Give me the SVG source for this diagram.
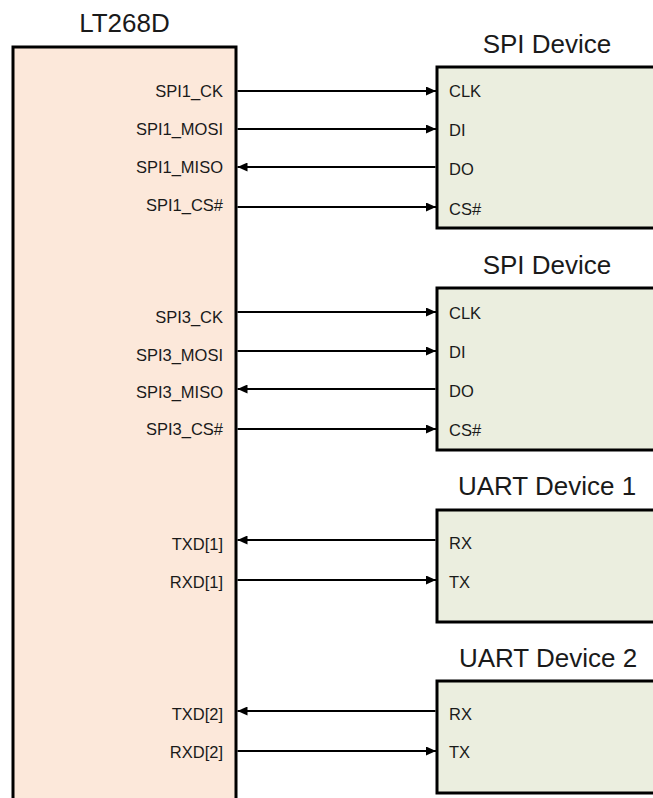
<svg xmlns="http://www.w3.org/2000/svg" width="653" height="798" viewBox="0 0 653 798">
<style>
.title{font-family:"Liberation Sans",Arial,sans-serif;font-size:26px;fill:#1a1a1a;text-anchor:middle}
.sig{font-family:"Liberation Sans",Arial,sans-serif;font-size:16.5px;fill:#1a1a1a;text-anchor:end}
.pin{font-family:"Liberation Sans",Arial,sans-serif;font-size:16.5px;fill:#1a1a1a;text-anchor:start}
.main{fill:#fce8da;stroke:#000;stroke-width:3}
.dev{fill:#ebeedf;stroke:#000;stroke-width:3}
.wire{stroke:#000;stroke-width:2;fill:none;marker-end:url(#arr)}
</style>
<defs>
<marker id="arr" markerUnits="userSpaceOnUse" markerWidth="10" markerHeight="9" refX="10" refY="4.5" orient="auto">
<path d="M0,0 L10,4.5 L0,9 Z" fill="#000"/>
</marker>
</defs>
<rect width="653" height="798" fill="#fff"/>
<g id="lt268d">
<rect class="main" x="13" y="47" width="223" height="770"/>
<text class="title" x="124.5" y="32">LT268D</text>
<text class="sig" x="223" y="97">SPI1_CK</text>
<text class="sig" x="223" y="135">SPI1_MOSI</text>
<text class="sig" x="223" y="173">SPI1_MISO</text>
<text class="sig" x="223" y="211">SPI1_CS#</text>
<text class="sig" x="223" y="323">SPI3_CK</text>
<text class="sig" x="223" y="361">SPI3_MOSI</text>
<text class="sig" x="223" y="398">SPI3_MISO</text>
<text class="sig" x="223" y="435">SPI3_CS#</text>
<text class="sig" x="223" y="550">TXD[1]</text>
<text class="sig" x="223" y="588">RXD[1]</text>
<text class="sig" x="223" y="720">TXD[2]</text>
<text class="sig" x="223" y="758">RXD[2]</text>
</g>
<g id="spi-device-1">
<rect class="dev" x="437" y="67" width="240" height="161"/>
<text class="title" x="547" y="53">SPI Device</text>
<text class="pin" x="449" y="97">CLK</text>
<text class="pin" x="449" y="136">DI</text>
<text class="pin" x="449" y="175">DO</text>
<text class="pin" x="449" y="215">CS#</text>
</g>
<g id="spi-device-2">
<rect class="dev" x="437" y="288" width="240" height="162"/>
<text class="title" x="547" y="274">SPI Device</text>
<text class="pin" x="449" y="319">CLK</text>
<text class="pin" x="449" y="358">DI</text>
<text class="pin" x="449" y="397">DO</text>
<text class="pin" x="449" y="436">CS#</text>
</g>
<g id="uart-device-1">
<rect class="dev" x="437" y="510" width="240" height="112"/>
<text class="title" x="547" y="495">UART Device 1</text>
<text class="pin" x="449" y="549">RX</text>
<text class="pin" x="449" y="588">TX</text>
</g>
<g id="uart-device-2">
<rect class="dev" x="437" y="681" width="240" height="112"/>
<text class="title" x="548" y="667">UART Device 2</text>
<text class="pin" x="449" y="720">RX</text>
<text class="pin" x="449" y="758">TX</text>
</g>
<g id="connectors">
<line class="wire" x1="237.5" y1="91" x2="436" y2="91"/>
<line class="wire" x1="237.5" y1="129" x2="436" y2="129"/>
<line class="wire" x1="435.5" y1="167" x2="237.5" y2="167"/>
<line class="wire" x1="237.5" y1="207" x2="436" y2="207"/>
<line class="wire" x1="237.5" y1="312" x2="436" y2="312"/>
<line class="wire" x1="237.5" y1="351" x2="436" y2="351"/>
<line class="wire" x1="435.5" y1="389" x2="237.5" y2="389"/>
<line class="wire" x1="237.5" y1="429" x2="436" y2="429"/>
<line class="wire" x1="435.5" y1="540" x2="237.5" y2="540"/>
<line class="wire" x1="237.5" y1="580" x2="436" y2="580"/>
<line class="wire" x1="435.5" y1="711" x2="237.5" y2="711"/>
<line class="wire" x1="237.5" y1="751" x2="436" y2="751"/>
</g>
</svg>
